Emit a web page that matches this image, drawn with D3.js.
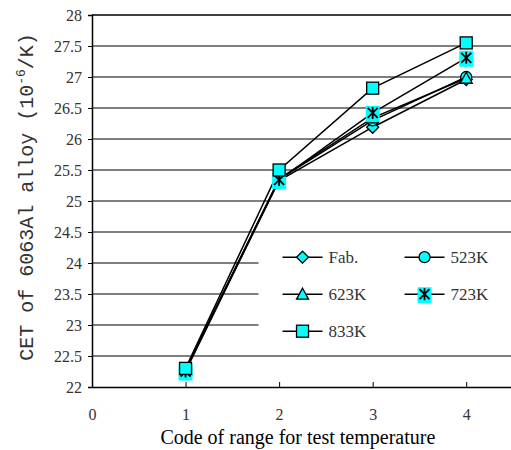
<!DOCTYPE html>
<html>
<head>
<meta charset="utf-8">
<script src="https://cdn.jsdelivr.net/npm/d3@7"></script>
<style>
  body { margin: 0; background: #fff; }
</style>
</head>
<body>
<svg id="chart"></svg>
<script>
// data
const codes = [1, 2, 3, 4];
const seriesNames = ['Fab.', '523K', '623K', '723K', '833K'];
const fab   = [22.28, 25.33, 26.19, 26.96];
const k523  = [22.28, 25.35, 26.30, 27.00];
const k623  = [22.28, 25.36, 26.34, 26.98];
const k723  = [22.25, 25.34, 26.42, 27.31];
const k833  = [22.30, 25.50, 26.82, 27.55];
const yTicks = [22, 22.5, 23, 23.5, 24, 24.5, 25, 25.5, 26, 26.5, 27, 27.5, 28];
const xTicks = [0, 1, 2, 3, 4];

const seriesValues = [fab, k523, k623, k723, k833];
const markerTypes = ['diamond', 'circle', 'triangle', 'star', 'square'];

const width = 511, height = 450;
const margin = {top: 15, left: 92, bottom: 63, right: -2};
const innerW = width - margin.left - margin.right;
const innerH = height - margin.top - margin.bottom;
const serif = '"Liberation Serif", "DejaVu Serif", serif';

const svg = d3.select('#chart').attr('width', width).attr('height', height);
const g = svg.append('g').attr('transform', `translate(${margin.left},${margin.top})`);

const x = d3.scaleLinear().domain([0, 4.5]).range([0, innerW]);
const y = d3.scaleLinear().domain([22, 28]).range([innerH, 0]);

// gridlines
g.selectAll('.grid').data(yTicks.filter(d => d > 22))
  .join('line')
  .attr('x1', 0).attr('x2', innerW)
  .attr('y1', d => y(d)).attr('y2', d => y(d))
  .attr('stroke', d => d === 28 ? '#000' : '#555')
  .attr('stroke-width', 1.3);

// axes
const yAxis = g.append('g').call(d3.axisLeft(y).tickValues(yTicks).tickSize(4).tickPadding(6).tickFormat(d3.format('')));
yAxis.select('.domain').attr('stroke-width', 1.5);
yAxis.selectAll('.tick text').attr('font-family', serif).attr('font-size', 16).attr('fill', '#333');

const xAxis = g.append('g').attr('transform', `translate(0,${innerH})`)
  .call(d3.axisBottom(x).tickValues(xTicks).tickSizeInner(-5).tickSizeOuter(0).tickPadding(22).tickFormat(d3.format('d')));
xAxis.select('.domain').attr('stroke-width', 1.5);
xAxis.selectAll('.tick text').attr('font-family', serif).attr('font-size', 16).attr('fill', '#333');

// marker shapes
function drawMarker(sel, type) {
  if (type === 'diamond') {
    sel.append('path').attr('d', 'M0,-6L6,0L0,6L-6,0Z')
      .attr('fill', '#00ffff').attr('stroke', '#000').attr('stroke-width', 1.3);
  } else if (type === 'circle') {
    sel.append('circle').attr('r', 5.5)
      .attr('fill', '#00ffff').attr('stroke', '#000').attr('stroke-width', 1.3);
  } else if (type === 'triangle') {
    sel.append('path').attr('d', 'M0,-6L6,5L-6,5Z')
      .attr('fill', '#00ffff').attr('stroke', '#000').attr('stroke-width', 1.3);
  } else if (type === 'square') {
    sel.append('rect').attr('x', -6).attr('y', -6).attr('width', 12).attr('height', 12)
      .attr('fill', '#00ffff').attr('stroke', '#000').attr('stroke-width', 1.3);
  } else if (type === 'star') {
    sel.append('rect').attr('x', -7).attr('y', -7).attr('width', 14).attr('height', 16)
      .attr('fill', '#00ffff');
    sel.append('path').attr('d', 'M-5,-5L5,5M5,-5L-5,5M0,-6L0,6')
      .attr('stroke', '#000').attr('stroke-width', 1.8).attr('fill', 'none');
  }
}

const line = d3.line().x((d, i) => x(codes[i])).y(d => y(d));

// legend box first so the series lines stay on top of it
const legend = g.append('g').attr('transform', `translate(${x(1.78)},${y(24.40)})`);
legend.append('rect').attr('x', 0).attr('y', 0).attr('width', 260).attr('height', 107).attr('fill', '#fff');
seriesNames.forEach((name, i) => {
  const col = i % 2, row = Math.floor(i / 2);
  const item = legend.append('g').attr('transform', `translate(${24 + col * 122},${19 + row * 37})`);
  item.append('line').attr('x1', 0).attr('x2', 40).attr('y1', 0).attr('y2', 0)
    .attr('stroke', '#000').attr('stroke-width', 1.5);
  drawMarker(item.append('g').attr('transform', 'translate(20,0)'), markerTypes[i]);
  item.append('text').attr('x', 46).attr('y', 6)
    .attr('font-family', serif).attr('font-size', 17).attr('fill', '#333')
    .text(name);
});

seriesValues.forEach(vals => {
  g.append('path').datum(vals)
    .attr('d', line)
    .attr('fill', 'none')
    .attr('stroke', '#000')
    .attr('stroke-width', 1.5);
});
seriesValues.forEach((vals, si) => {
  vals.forEach((v, i) => {
    const m = g.append('g').attr('transform', `translate(${x(codes[i])},${y(v)})`);
    drawMarker(m, markerTypes[si]);
  });
});

// axis titles
svg.append('text')
  .attr('x', margin.left + x(2.2)).attr('y', 444)
  .attr('text-anchor', 'middle')
  .attr('font-family', serif).attr('font-size', 20)
  .text('Code of range for test temperature');

const yt = svg.append('text')
  .attr('transform', `translate(33,197) rotate(-90)`)
  .attr('text-anchor', 'middle')
  .attr('font-family', '"Liberation Mono", monospace').attr('font-size', 20).attr('fill', '#333');
yt.append('tspan').text('CET of 6063Al alloy (10');
yt.append('tspan').attr('dy', -8).attr('font-size', 13).text('-6');
yt.append('tspan').attr('dy', 8).text('/K)');
</script>
</body>
</html>
